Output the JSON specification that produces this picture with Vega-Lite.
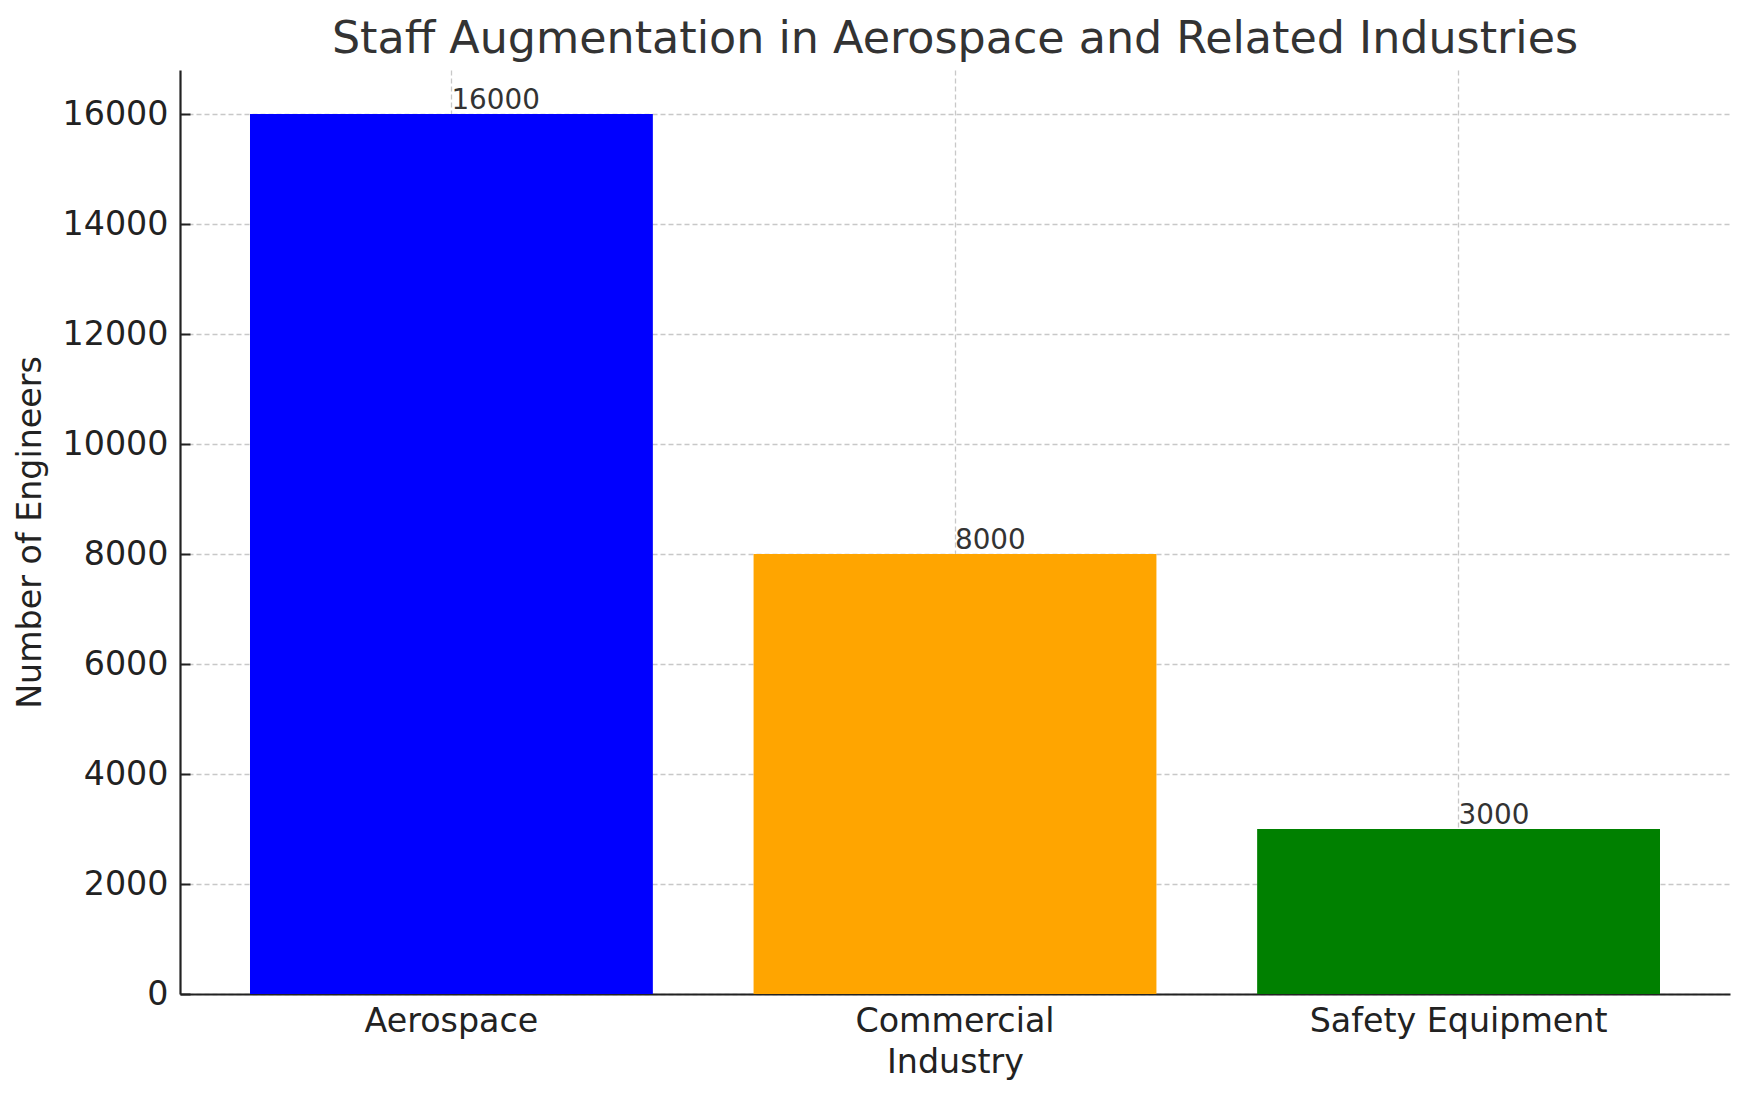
{
  "$schema": "https://vega.github.io/schema/vega-lite/v6.json",
  "description": "Staff augmentation in aerospace and related industries, bar chart with value labels.",
  "width": 1550,
  "height": 924,
  "autosize": "none",
  "padding": {"left": 180, "top": 70, "right": 20, "bottom": 107},
  "background": "white",
  "config": {
    "font": "DejaVu Sans",
    "view": {"stroke": null},
    "axis": {
      "labelFont": "DejaVu Sans",
      "titleFont": "DejaVu Sans",
      "labelFontSize": 33.3,
      "titleFontSize": 33.3,
      "labelColor": "#222222",
      "titleColor": "#222222",
      "titleFontWeight": "normal",
      "labelLimit": 0,
      "domainColor": "#222222",
      "domainWidth": 2.2,
      "tickColor": "#222222",
      "tickWidth": 2,
      "tickSize": -10,
      "gridColor": "#c8c8c8",
      "gridWidth": 1.3,
      "gridDash": [5, 3],
      "zindex": 1
    }
  },
  "title": {
    "text": "Staff Augmentation in Aerospace and Related Industries",
    "font": "DejaVu Sans",
    "fontSize": 44.4,
    "fontWeight": "normal",
    "color": "#333333",
    "anchor": "middle",
    "frame": "group",
    "baseline": "alphabetic",
    "offset": -27
  },
  "data": {
    "values": [
      {"industry": "Aerospace", "engineers": 16000},
      {"industry": "Commercial", "engineers": 8000},
      {"industry": "Safety Equipment", "engineers": 3000}
    ]
  },
  "encoding": {
    "x": {
      "field": "industry",
      "type": "nominal",
      "sort": null,
      "title": "Industry",
      "scale": {"paddingInner": 0.2, "paddingOuter": 0.139},
      "axis": {
        "labelAngle": 0,
        "bandPosition": 0.5,
        "grid": true,
        "labelPadding": 21,
        "titlePadding": 9
      }
    },
    "y": {
      "field": "engineers",
      "type": "quantitative",
      "title": "Number of Engineers",
      "scale": {"domain": [0, 16800], "nice": false},
      "axis": {
        "values": [0, 2000, 4000, 6000, 8000, 10000, 12000, 14000, 16000],
        "format": "d",
        "grid": true,
        "labelPadding": 22,
        "titlePadding": 15
      }
    }
  },
  "layer": [
    {
      "mark": {"type": "bar"},
      "encoding": {
        "color": {
          "field": "industry",
          "type": "nominal",
          "sort": null,
          "scale": {"range": ["#0000ff", "#ffa500", "#008000"]},
          "legend": null
        }
      }
    },
    {
      "mark": {
        "type": "text",
        "align": "left",
        "baseline": "alphabetic",
        "dy": -5,
        "fontSize": 27.8,
        "color": "#333333"
      },
      "encoding": {
        "text": {"field": "engineers", "type": "quantitative", "format": "d"}
      }
    }
  ]
}
